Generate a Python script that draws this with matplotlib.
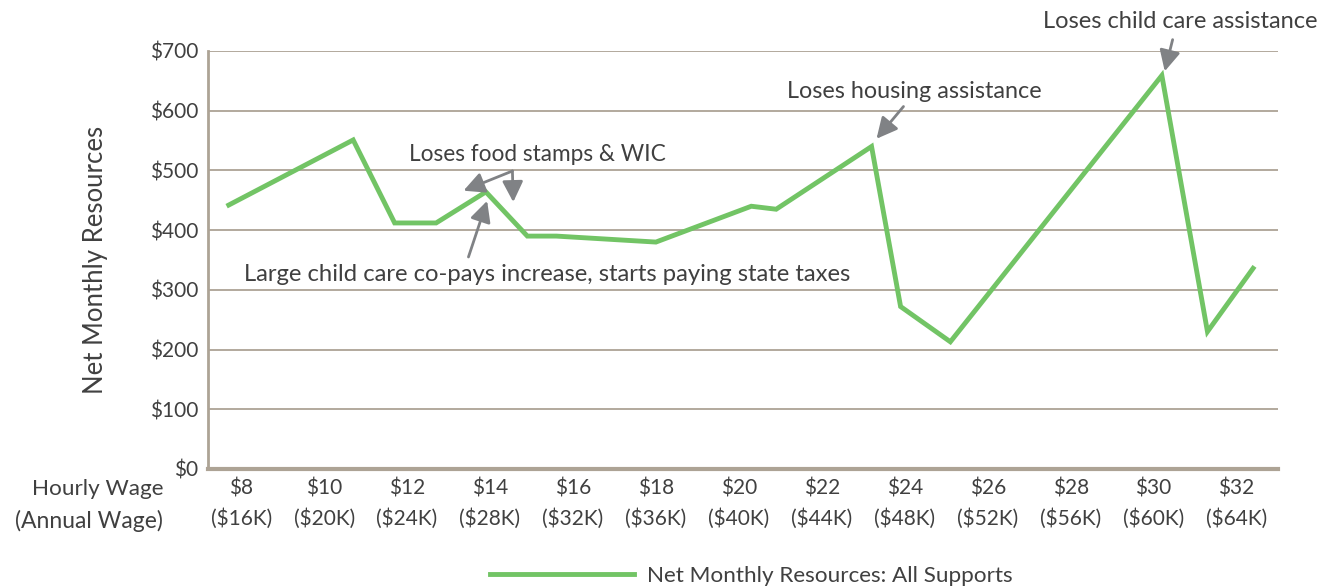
import matplotlib.pyplot as plt

plt.rcParams['font.family'] = ['Lato', 'DejaVu Sans']

# line data (hourly wage, net monthly resources)
wage = [7.7, 10.7, 11.7, 12.7, 13.9, 14.9, 15.6, 18.0, 20.3, 20.9, 23.2, 23.9, 25.1, 30.2, 31.3, 32.4]
resources = [442, 551, 412, 412, 464, 390, 390, 380, 440, 435, 540, 272, 213, 659, 230, 336]

tick_wages = [8, 10, 12, 14, 16, 18, 20, 22, 24, 26, 28, 30, 32]
annual = ['$16K', '$20K', '$24K', '$28K', '$32K', '$36K', '$40K', '$44K', '$48K', '$52K', '$56K', '$60K', '$64K']

text_c = '#404040'
grid_c = '#ADA395'
green = '#72C465'
arrow_c = '#808285'

fig = plt.figure(figsize=(13.25, 5.86), dpi=100)
ax = fig.add_axes([0.157, 0.1997, 0.8075, 0.7133])

ax.plot(wage, resources, color=green, lw=3.5, solid_joinstyle='miter',
        label='Net Monthly Resources: All Supports', zorder=3)

ax.set_xlim(7.2, 33.0)
ax.set_ylim(0, 700)
ax.set_yticks(range(0, 701, 100))
ax.set_yticklabels([f'${v}' for v in range(0, 701, 100)], fontsize=15, color=text_c)
ax.set_xticks(tick_wages)
ax.set_xticklabels([f'${w}\n({a})' for w, a in zip(tick_wages, annual)], fontsize=15, color=text_c)
for lbl in ax.get_xticklabels():
    lbl.set_linespacing(1.55)
ax.tick_params(length=0, pad=7)
ax.yaxis.grid(True, color=grid_c, lw=1.3)
ax.set_axisbelow(True)
for s in ['top', 'right']:
    ax.spines[s].set_visible(False)
ax.spines['left'].set_color(grid_c)
ax.spines['left'].set_linewidth(2)
ax.spines['bottom'].set_color(grid_c)
ax.spines['bottom'].set_linewidth(3)

ax.set_ylabel('Net Monthly Resources', fontsize=18.5, color=text_c, labelpad=30)

fig.text(163 / 1325, 1 - 489 / 586, 'Hourly Wage', ha='right', va='center', fontsize=16.2, color=text_c)
fig.text(163 / 1325, 1 - 521 / 586, '(Annual Wage)', ha='right', va='center', fontsize=16.5, color=text_c)

# annotations
arrows = [((14.54, 499), (13.36, 466)),
          ((14.54, 499), (14.56, 447)),
          ((13.48, 355), (13.93, 449)),
          ((23.97, 607), (23.32, 553)),
          ((30.46, 719), (30.27, 666))]
for tail, head in arrows:
    ax.annotate('', xy=head, xytext=tail, annotation_clip=False,
                arrowprops=dict(arrowstyle='-|>,head_length=0.7,head_width=0.35',
                                color=arrow_c, lw=2, shrinkA=0, shrinkB=0, mutation_scale=18))

ax.text(15.14, 526, 'Loses food stamps & WIC', ha='center', va='center', fontsize=16.3, color=text_c)
ax.text(15.38, 326, 'Large child care co-pays increase, starts paying state taxes',
        ha='center', va='center', fontsize=17.2, color=text_c)
ax.text(24.24, 632, 'Loses housing assistance', ha='center', va='center', fontsize=16.8, color=text_c)
ax.text(30.65, 750, 'Loses child care assistance', ha='center', va='center', fontsize=17,
        color=text_c, clip_on=False)

fig.legend(loc='center', bbox_to_anchor=(0.567, 10 / 586), frameon=False, fontsize=16.2,
           handlelength=6.4, handletextpad=0.6, labelcolor=text_c)

fig.savefig('out.png', dpi=100)
